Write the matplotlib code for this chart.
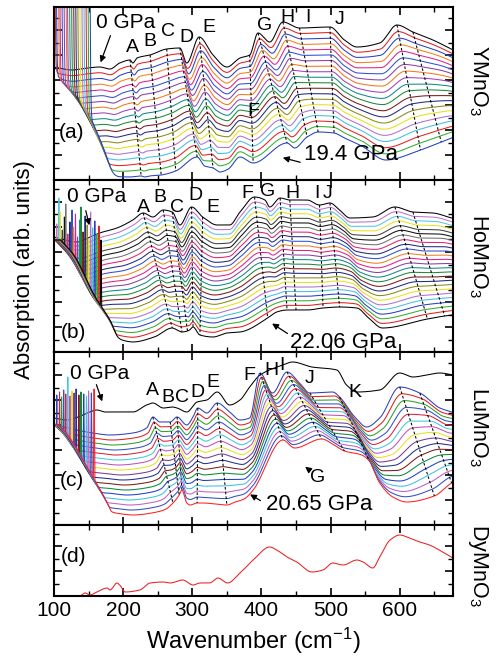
import numpy as np
import matplotlib.pyplot as plt
from matplotlib.ticker import MultipleLocator

plt.rcParams['font.family'] = ['Liberation Sans', 'DejaVu Sans']
plt.rcParams['mathtext.fontset'] = 'custom'
plt.rcParams['mathtext.rm'] = 'Liberation Sans'
plt.rcParams['mathtext.it'] = 'Liberation Sans:italic'

# ---- (a) YMnO3 : 0 GPa curve and 19.4 GPa curve, matching feature points ----
top_wn_a = [100, 126, 148, 166, 181, 195, 210, 214, 220, 239, 263, 282, 292, 310, 330,
            350, 369, 383, 395, 412, 431, 455, 499, 520, 538, 571, 596, 619, 648, 677]
top_h_a = [113, 110, 112, 113, 111, 117, 120, 117, 122, 125, 131, 132, 117, 143, 125,
           113, 122, 125, 147, 138, 158, 152, 153, 140, 133, 137, 155, 148, 140, 130]
bot_wn_a = [120, 140, 160, 180, 195, 210, 226, 231, 238, 255, 276, 307, 318, 330, 340,
            352, 369, 388, 437, 448, 466, 482, 505, 520, 545, 580, 630, 660, 685, 710]
bot_h_a = [3, 3, 3, 4, 3, 3, 4, 3, 4, 5, 9, 23, 14, 12, 8,
           11, 23, 17, 37, 32, 43, 48, 47, 42, 34, 20, 30, 38, 44, 46]
env_wn_a = [100, 129, 150, 165, 177, 186, 200]
env_h_a = [106, 82, 55, 30, 8, 0, -5]
edges_a = [None, 101, 103, 106, 108, 111, 114, 117, 119, 122, 125, 128, 131, 134, 137,
           140, 143, 146, 149, 152]
tops_a = [None] + [300] * 19
colors_a = ['black', '#e02020', '#2a40c0', '#f08020', '#e0208a', '#3050d0', '#8a40a0',
            '#f07818', '#a040c0', '#108a8a', '#1a8a3a', '#801818', '#202a80', '#8a8a18',
            '#e8e018', '#b070d0', '#40c0e0', '#e82020', '#30b030', '#2040c0']
dash_a = [6, 9, 10, 11, 13, 17, 18, 20, 21, 22, 26, 27]
letters_a = [('A', 213, 133), ('B', 239, 138), ('C', 265, 148), ('D', 291, 143),
             ('E', 324, 152), ('F', 388, 68), ('G', 405, 155), ('H', 438, 162),
             ('I', 467, 162), ('J', 513, 160)]

# ---- (b) HoMnO3 : 0 GPa and 22.06 GPa ----
top_wn_b = [100, 133, 152, 166, 191, 214, 229, 243, 258, 271, 282, 299, 315, 336, 354,
            369, 390, 405, 412, 427, 441, 466, 484, 499, 513, 528, 561, 593, 619, 648, 675]
top_h_b = [115, 110, 115, 119, 124, 132, 139, 135, 142, 140, 127, 145, 135, 127, 127,
           140, 155, 152, 145, 154, 152, 152, 147, 149, 142, 134, 135, 145, 140, 139, 134]
bot_wn_b = [140, 165, 185, 195, 214, 245, 271, 278, 285, 293, 296, 301, 311, 330, 350,
            369, 409, 415, 422, 437, 450, 466, 489, 513, 538, 555, 575, 640, 665, 690, 710]
bot_h_b = [12, 12, 13, 12, 10, 15, 24, 22, 20, 21, 22, 25, 17, 15, 19,
           20, 34, 37, 40, 42, 42, 42, 44, 45, 44, 34, 24, 33, 36, 38, 39]
env_wn_b = [100, 119, 150, 172, 183, 195, 210]
env_h_b = [112, 97, 55, 31, 14, 5, 0]
edges_b = [None, 104, 107, 109, 112, 115, 117, 120, 123, 126, 128, 131, 134, 137, 139,
           142, 145, 148, 150, 153, 156, 159, 162, 165, 168]
tops_b = [None, 128, 154, 140, 122, 135, 148, 118, 130, 142, 125, 138, 115, 132, 145,
          120, 136, 127, 113, 140, 124, 131, 118, 126, 112]
colors_b = ['black', '#c070d0', '#50c8e0', '#e8e020', '#404040', '#101010', '#707070',
            '#e82070', '#202a80', '#3050d0', '#f08020', '#e0208a', '#8a40a0', '#108a8a',
            '#1a8a3a', '#801818', '#202a80', '#8a8a18', '#e8e018', '#b070d0', '#40c0e0',
            '#2a40c0', '#30b030', '#e02020', 'black']
dash_b = [6, 8, 9, 11, 12, 16, 19, 20, 22, 23, 27, 28]
letters_b = [('A', 229, 145), ('B', 253, 155), ('C', 278, 145), ('D', 304, 157),
             ('E', 330, 144), ('F', 379, 159), ('G', 409, 160), ('H', 445, 159),
             ('I', 480, 159), ('J', 496, 159)]

# ---- (c) LuMnO3 : 0 GPa (black), first loaded curve and 20.65 GPa ----
blk_wn_c = [100, 119, 135, 148, 162, 174, 214, 234, 243, 258, 271, 278, 292, 307, 321, 336,
            354, 369, 383, 398, 431, 445, 473, 509, 523, 538, 571, 600, 619, 639, 658, 677]
blk_h_c = [107, 105, 108, 112, 115, 113, 113, 120, 122, 117, 118, 117, 113, 123, 125, 133,
           120, 125, 138, 150, 160, 163, 158, 155, 140, 133, 135, 152, 148, 150, 152, 150]
top_wn_c = [100, 156, 181, 214, 234, 243, 253, 268, 278, 292, 301, 308, 321, 336, 354,
            369, 383, 398, 416, 437, 455, 470, 503, 513, 535, 552, 571, 600, 629, 658, 675]
top_h_c = [100, 92, 90, 92, 97, 108, 103, 103, 108, 100, 108, 117, 112, 122, 113,
           105, 107, 152, 132, 153, 142, 132, 133, 128, 108, 98, 107, 138, 132, 117, 113]
bot_wn_c = [130, 181, 214, 249, 262, 272, 277, 281, 285, 292, 297, 307, 315, 350, 362,
            375, 388, 431, 448, 487, 505, 520, 545, 556, 571, 590, 610, 650, 675, 700, 720]
bot_h_c = [10, 12, 10, 13, 16, 22, 26, 30, 35, 22, 20, 22, 22, 20, 23,
           26, 35, 85, 77, 86, 80, 74, 70, 64, 42, 28, 23, 29, 42, 50, 55]
env_wn_c = [100, 110, 148, 172, 177, 190, 205]
env_h_c = [100, 93, 50, 20, 12, 5, 0]
edges_c = [104, 108, 111, 114, 117, 120, 123, 126, 129, 132, 136, 139, 143, 147, 150, 154, 158]
tops_c = [130, 133, 128, 135, 131, 148, 129, 134, 132, 136, 130, 133, 131, 129, 134, 132, 136]
colors_c = ['#2b3fbf', '#e02020', '#2ca02c', '#3050d0', '#e0203a', '#40c8e0', '#c050c0',
            '#e8e020', '#7a3a9a', '#203090', '#801818', '#0a8a3a', '#2040c0', '#40c0e0',
            '#c060c0', '#3050c0', '#ff2020']
dash_c = [5, 7, 8, 11, 13, 17, 19, 21, 23, 27, 28]
letters_c = [('A', 242, 135), ('B', 265, 128), ('C', 285, 128), ('D', 308, 133),
             ('E', 330, 143), ('F', 383, 150), ('H', 415, 155), ('I', 429, 160),
             ('J', 470, 147), ('K', 535, 133)]

# ---- (d) DyMnO3 ----
dy_wn = [140, 145, 152, 162, 177, 181, 191, 195, 203, 224, 239, 258, 268, 286, 301, 311,
         325, 337, 351, 369, 388, 412, 422, 437, 451, 473, 489, 503, 518, 538, 547, 561,
         571, 586, 600, 614, 629, 643, 662, 677]
dy_h = [1, 3, 1, 4, 8, 6, 13, 11, 4, 6, 13, 14, 13, 16, 11, 13,
        13, 18, 13, 23, 36, 49, 46, 39, 34, 24, 26, 33, 31, 36, 34, 28,
        39, 56, 61, 58, 54, 51, 44, 38]


def pchip(x, y, xq):
    x = np.asarray(x, float)
    y = np.asarray(y, float)
    xq = np.clip(xq, x[0], x[-1])
    h = np.diff(x)
    d = np.diff(y) / h
    m = np.zeros_like(y)
    for k in range(1, len(x) - 1):
        if d[k - 1] * d[k] > 0:
            w1 = 2 * h[k] + h[k - 1]
            w2 = h[k] + 2 * h[k - 1]
            m[k] = (w1 + w2) / (w1 / d[k - 1] + w2 / d[k])
    m[0] = d[0]
    m[-1] = d[-1]
    i = np.clip(np.searchsorted(x, xq) - 1, 0, len(x) - 2)
    t = (xq - x[i]) / h[i]
    return ((2 * t**3 - 3 * t**2 + 1) * y[i] + (t**3 - 2 * t**2 + t) * h[i] * m[i]
            + (-2 * t**3 + 3 * t**2) * y[i + 1] + (t**3 - t**2) * h[i] * m[i + 1])


wn = np.arange(100, 678, 0.25)
LW = 0.75


def stack(ax, tw, th, bw, bh, colors, edges, tops, env_wn, env_h, dash_idx, wall=False):
    tw, th, bw, bh = (np.asarray(v, float) for v in (tw, th, bw, bh))
    n = len(colors)
    for i, c in enumerate(colors):
        t = i / (n - 1)
        y = pchip((1 - t) * tw + t * bw, (1 - t) * th + t * bh, wn)
        if edges[i] is not None:
            env = pchip(np.asarray(env_wn) + 0.4 * i, env_h, wn)
            y = 2.0 * np.logaddexp(y / 2.0, env / 2.0)
            if wall:
                y = y + tops[i] / (1 + np.exp(np.clip((wn - edges[i]) / 0.6, -50, 50)))
            else:
                y = np.maximum(y, tops[i] * np.exp(-0.5 * ((wn - edges[i]) / 0.7) ** 2))
        ax.plot(wn, y, color=c, lw=LW)
    ts = np.linspace(0, 1, n)
    for j in dash_idx:
        ax.plot((1 - ts) * tw[j] + ts * bw[j], (1 - ts) * th[j] + ts * bh[j],
                ls=(0, (2.5, 2)), color='black', lw=0.75)


def style(ax, ymax, labels):
    ax.set_xlim(100, 677)
    ax.set_ylim(0, ymax)
    ax.xaxis.set_major_locator(MultipleLocator(100))
    ax.xaxis.set_minor_locator(MultipleLocator(50))
    ax.yaxis.set_major_locator(MultipleLocator(25))
    ax.yaxis.set_minor_locator(MultipleLocator(12.5))
    ax.tick_params(which='both', direction='in', top=True, right=True,
                   labelleft=False, labelbottom=labels, labelsize=15)
    ax.tick_params(which='major', length=6, width=1.2)
    ax.tick_params(which='minor', length=3.5, width=1.0)
    for s in ax.spines.values():
        s.set_linewidth(1.5)


def arrow(ax, head, tail):
    ax.annotate('', xy=head, xytext=tail,
                arrowprops=dict(arrowstyle='-|>', lw=0.9, color='black', mutation_scale=9))


fig = plt.figure(figsize=(4.96, 6.66), dpi=100)
L, W = 54 / 496, 399 / 496
ax_a = fig.add_axes([L, 1 - 180 / 666, W, 173 / 666])
ax_b = fig.add_axes([L, 1 - 352 / 666, W, 172 / 666])
ax_c = fig.add_axes([L, 1 - 525 / 666, W, 173 / 666])
ax_d = fig.add_axes([L, 1 - 596 / 666, W, 71 / 666])

# (a)
stack(ax_a, top_wn_a, top_h_a, bot_wn_a, bot_h_a, colors_a, edges_a, tops_a,
      env_wn_a, env_h_a, dash_a, wall=True)
style(ax_a, 173, False)
for s, x, y in letters_a:
    ax_a.text(x, y, s, fontsize=14, ha='center', va='center')
ax_a.text(203, 157, '0 GPa', fontsize=15, ha='center', va='center')
arrow(ax_a, (166, 115), (183, 147))
ax_a.text(529, 25, '19.4 GPa', fontsize=16, ha='center', va='center')
arrow(ax_a, (427, 23), (460, 17))
ax_a.text(126, 47, '(a)', fontsize=15, ha='center', va='center')

# (b)
stack(ax_b, top_wn_b, top_h_b, bot_wn_b, bot_h_b, colors_b, edges_b, tops_b,
      env_wn_b, env_h_b, dash_b)
style(ax_b, 172, False)
for s, x, y in letters_b:
    ax_b.text(x, y, s, fontsize=14, ha='center', va='center')
ax_b.text(162, 155, '0 GPa', fontsize=15, ha='center', va='center')
arrow(ax_b, (152, 124), (145, 144))
ax_b.text(518, 9, '22.06 GPa', fontsize=16, ha='center', va='center')
arrow(ax_b, (412, 30), (441, 17))
ax_b.text(128, 19, '(b)', fontsize=15, ha='center', va='center')

# (c)
ax_c.plot(wn, pchip(blk_wn_c, blk_h_c, wn), color='black', lw=LW)
stack(ax_c, top_wn_c, top_h_c, bot_wn_c, bot_h_c, colors_c, edges_c, tops_c,
      env_wn_c, env_h_c, dash_c)
style(ax_c, 173, False)
for s, x, y in letters_c:
    ax_c.text(x, y, s, fontsize=14, ha='center', va='center')
ax_c.text(481, 48, 'G', fontsize=14, ha='center', va='center')
arrow(ax_c, (460, 60), (473, 53))
ax_c.text(166, 152, '0 GPa', fontsize=15, ha='center', va='center')
arrow(ax_c, (171, 121), (160, 143))
ax_c.text(484, 20, '20.65 GPa', fontsize=16, ha='center', va='center')
arrow(ax_c, (380, 32), (402, 23))
ax_c.text(126, 45, '(c)', fontsize=15, ha='center', va='center')

# (d)
wd = np.arange(140, 677.1, 0.5)
ax_d.plot(wd, pchip(dy_wn, dy_h, wd), color='#e82020', lw=LW)
style(ax_d, 71, True)
ax_d.text(128, 40, '(d)', fontsize=15, ha='center', va='center')
ax_d.set_xlabel('Wavenumber (cm$^{-1}$)', fontsize=17, labelpad=4)

fig.text(25 / 496, 1 - 270 / 666, 'Absorption (arb. units)', rotation=90,
         fontsize=16, ha='center', va='center')
for name, yc in [('YMnO$_3$', 80), ('HoMnO$_3$', 256), ('LuMnO$_3$', 427), ('DyMnO$_3$', 565)]:
    fig.text(478 / 496, 1 - yc / 666, name, rotation=270, fontsize=15.5,
             ha='center', va='center')

fig.savefig('out.png', dpi=100)
